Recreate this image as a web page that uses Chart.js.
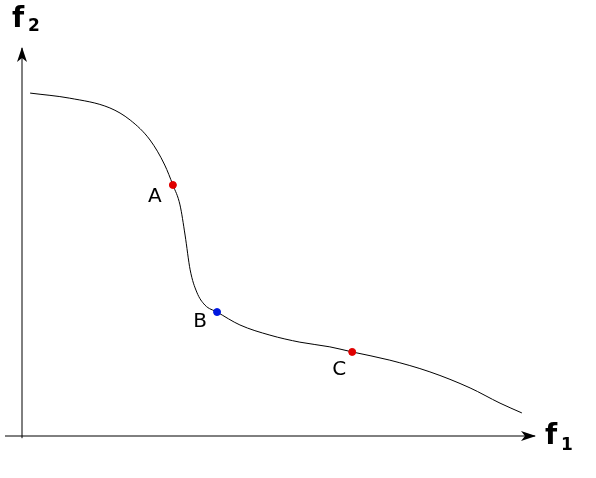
<!DOCTYPE html><html><head><script src="https://cdn.jsdelivr.net/npm/chart.js"></script>
<style>html,body{margin:0;background:#fff}#w{width:596px;height:478px}</style></head><body><div id="w"><canvas id="c"></canvas></div>
<script>
const curveX=[1.6,9.4,17.3,21.3,25.2,28.1,29.7,31.1,32.1,33.1,34.4,36.0,38.4,42.9,48.8,54.7,60.6,65.0,72.4,80.3,88.2,94.1,98.4];
const curveY=[87.7,86.4,83.9,80.8,75.7,69.3,64.2,59.1,51.4,42.5,36.8,33.5,31.7,28.4,25.8,24.0,22.8,21.5,19.4,16.4,12.3,8.4,5.9];
const ptLabels=['A','B','C'];
const ptX=[29.7,38.4,65.0];
const ptY=[64.2,31.7,21.5];
const ptColors=['#e00000','#0018e0','#e00000'];
const deco={id:'deco',afterDraw(ch){const c=ch.ctx,x=ch.scales.x,y=ch.scales.y;const x0=x.getPixelForValue(0),y0=y.getPixelForValue(0);
c.save();c.strokeStyle='#000';c.fillStyle='#000';c.lineWidth=1;
c.beginPath();c.moveTo(x0,y.getPixelForValue(-0.3)+1);c.lineTo(x0,48);c.moveTo(5,y0);c.lineTo(535,y0);c.stroke();
c.beginPath();c.moveTo(x0,47);c.lineTo(x0-5,62);c.lineTo(x0,58);c.lineTo(x0+5,62);c.closePath();c.fill();
c.beginPath();c.moveTo(536,y0);c.lineTo(521,y0-5);c.lineTo(525,y0);c.lineTo(521,y0+5);c.closePath();c.fill();
c.font='20px "DejaVu Sans"';c.textBaseline='middle';c.textAlign='center';
ptLabels.forEach((l,i)=>{const px=x.getPixelForValue(ptX[i]),py=y.getPixelForValue(ptY[i]);const off=[[-18,12],[-17,10],[-13,18]][i];c.fillText(l,px+off[0],py+off[1]);});
c.textAlign='left';c.font='bold 28px "DejaVu Sans"';c.fillText('f',545,437);c.fillText('f',12,20);
c.font='bold 17px "DejaVu Sans"';c.fillText('1',561,446);c.fillText('2',28,27);
c.restore();}};
new Chart(document.getElementById('c'),{type:'scatter',data:{datasets:[
{data:ptX.map((v,i)=>({x:v,y:ptY[i]})),showLine:false,pointRadius:3.5,pointBackgroundColor:ptColors,pointBorderColor:ptColors,order:0},
{data:curveX.map((v,i)=>({x:v,y:curveY[i]})),showLine:true,borderColor:'#000',borderWidth:1,pointRadius:0,cubicInterpolationMode:'monotone',order:1}
]},options:{responsive:true,maintainAspectRatio:false,animation:false,layout:{padding:{left:22,right:66,top:45,bottom:42}},
plugins:{legend:{display:false},tooltip:{enabled:false}},
scales:{x:{type:'linear',min:0,max:100,display:false},y:{type:'linear',min:0,max:100,display:false}}},plugins:[deco]});
</script></body></html>
